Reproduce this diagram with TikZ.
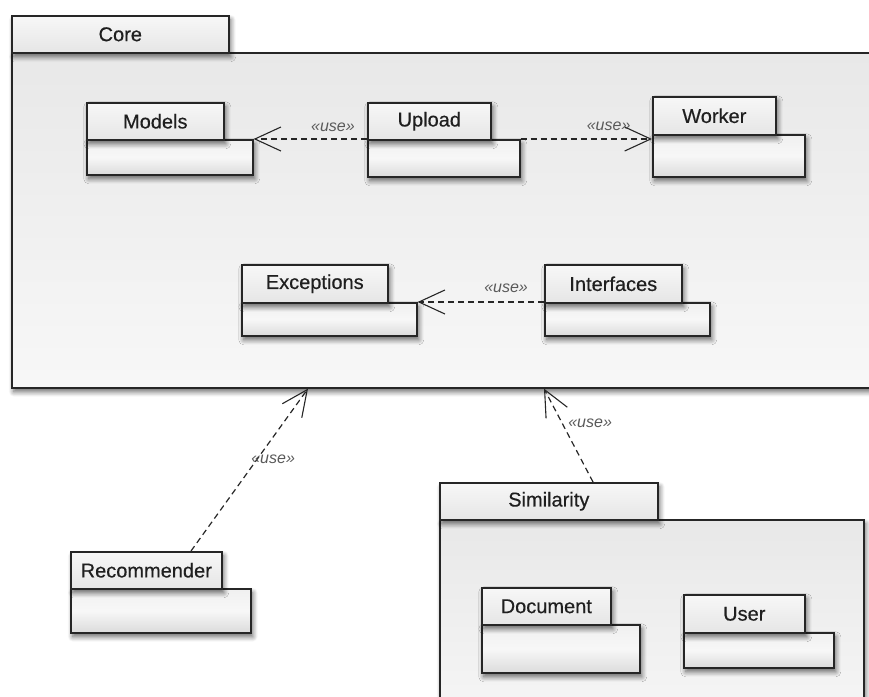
\documentclass[tikz,border=0pt]{standalone}
\usepackage{fontspec}
\setmainfont{Liberation Sans}
\newfontfamily\pkgfont[FakeBold=0.4]{Liberation Sans}
\usetikzlibrary{arrows.meta,calc,shadows.blur}

\tikzset{
  pkgshadow/.style={blur shadow={shadow xshift=2pt, shadow yshift=-4pt,
      shadow blur radius=5pt, shadow blur steps=8, shadow opacity=60}},
  pkgtab/.style={draw=black!85, line width=1.6pt, anchor=north west,
      inner sep=0pt, font=\pkgfont\fontsize{20}{24}\selectfont, text=black!88,
      top color=white!97!black, bottom color=black!10, pkgshadow},
  pkgbody/.style={draw=black!85, line width=1.6pt, anchor=north west,
      inner sep=0pt, top color=black!6, bottom color=black!14,
      middle color=white!97!black, pkgshadow},
  bigbody/.style={draw=black!85, line width=1.6pt, anchor=north west,
      inner sep=0pt, top color=black!9, bottom color=black!3, pkgshadow},
  usedep/.style={draw=black!85, line width=1.2pt, dash pattern=on 6pt off 4pt,
      -{Straight Barb[length=26pt, width=24pt, line width=1.1pt]}},
  uselabel/.style={font=\itshape\fontsize{16}{18}\selectfont, text=black!65,
      inner sep=0pt}
}

% package = body node (#2) with a tab node (#2-tab) on top of it
% #3,#4: tab corner, #5 x #6: tab size, #7 x #8: body size, #9: name
\newcommand\umlpackage[9][pkgbody]{%
  \node[#1, minimum width=#7pt, minimum height=#8pt] (#2) at (#3,#4+#6) {};
  \node[pkgtab, minimum width=#5pt, minimum height=#6pt] (#2-tab) at (#3,#4) {#9};
}

\begin{document}
\begin{tikzpicture}[x=1pt, y=-1pt]
  \useasboundingbox (0,0) rectangle (869,696);

  % Core package and its contents
  \umlpackage[bigbody]{core}{11}{15}{217}{37}{900}{335}{Core}
  \umlpackage{models}{86}{102}{137}{37}{166}{35}{Models}
  \umlpackage{upload}{367}{102}{123}{37}{152}{37}{Upload}
  \umlpackage{worker}{652}{96}{123}{38}{152}{42}{Worker}
  \umlpackage{exceptions}{241}{264}{146}{38}{175}{33}{Exceptions}
  \umlpackage{interfaces}{544}{264}{137}{38}{165}{33}{Interfaces}

  % Recommender package
  \umlpackage{recommender}{70}{551}{151}{37}{180}{44}{Recommender}

  % Similarity package and its contents
  \umlpackage[bigbody]{similarity}{439}{482}{218}{37}{424}{220}{Similarity}
  \umlpackage{document}{481}{587}{129}{37}{158}{48}{Document}
  \umlpackage{user}{683}{594}{121}{38}{150}{35}{User}

  % dependencies
  \draw[usedep] (upload.north west) -- (models.north east)
    node[uselabel, pos=0.3, yshift=12pt] {«use»};
  \draw[usedep] (upload.north east) -- (upload.north east -| worker.west)
    node[uselabel, pos=0.67, yshift=13pt] {«use»};
  \draw[usedep] (interfaces.north west) -- (exceptions.north east)
    node[uselabel, pos=0.3, yshift=14pt] {«use»};
  \draw[usedep] ($(recommender-tab.north west)+(121,0)$) -- ($(core.south west)+(297,0)$)
    node[uselabel, pos=0.565, xshift=16pt] {«use»};
  \draw[usedep] ($(similarity-tab.north west)+(154,0)$) -- ($(core.south west)+(533,0)$)
    node[uselabel, pos=0.63, xshift=28pt] {«use»};
\end{tikzpicture}
\end{document}
